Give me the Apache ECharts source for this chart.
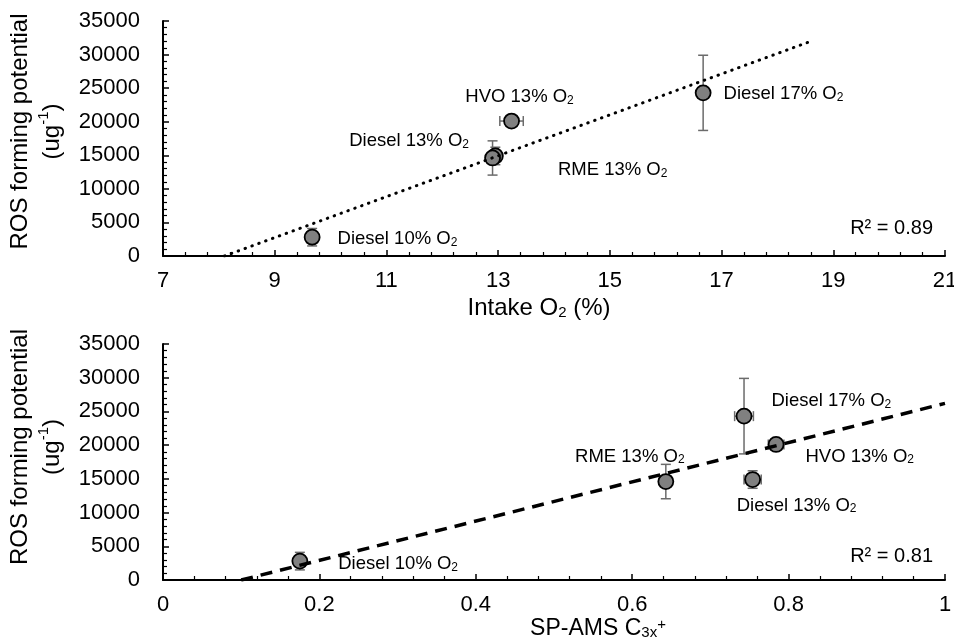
<!DOCTYPE html>
<html>
<head>
<meta charset="utf-8">
<script src="https://cdn.jsdelivr.net/npm/echarts@6/dist/echarts.min.js"></script>
<style>
  html, body { margin: 0; padding: 0; background: #fff; }
  #chart { width: 954px; height: 637px; }
</style>
</head>
<body>
<div id="chart"></div>
<script>
// sample names and measured values
const names = ['Diesel 10% O2', 'Diesel 13% O2', 'RME 13% O2', 'HVO 13% O2', 'Diesel 17% O2'];
const intakeO2 = [9.67, 12.95, 12.9, 13.24, 16.67];
const intakeO2Err = [0, 0, 0, 0.21, 0];
const c3x = [0.175, 0.754, 0.643, 0.784, 0.743];
const c3xErr = [0, 0.011, 0, 0.01, 0.012];
const ros = [2800, 14900, 14600, 20100, 24300];
const rosErr = [1300, 1300, 2550, 700, 5600];

// linear trend lines (end points)
const trendO2X = [8.1, 18.57];
const trendO2Y = [0, 31900];
const trendC3xX = [0.1, 1];
const trendC3xY = [0, 26200];
const r2Labels = ['R² = 0.89', 'R² = 0.81'];

// axis ticks
const yTicks = [0, 35000, 5000];
const o2Ticks = [7, 21, 2];
const c3xTicks = [0, 1, 0.2];

const FONT = "'Liberation Sans', Arial, sans-serif";
const myChart = echarts.init(document.getElementById('chart'));

// label placement for each point (top chart / bottom chart)
const topLabelPos = [
	{ position: 'right', distance: 17, offset: [0, 2] },
	{ position: 'left', distance: 18, offset: [0, -15] },
	{ position: 'right', distance: 57, offset: [0, 12] },
	{ position: 'top', distance: 6, offset: [8, 0] },
	{ position: 'right', distance: 12, offset: [0, 1] }
];
const bottomLabelPos = [
	{ position: 'right', distance: 30, offset: [0, 3] },
	{ position: 'bottom', distance: 8, offset: [44, 0] },
	{ position: 'top', distance: 7, offset: [-36, 0] },
	{ position: 'right', distance: 21, offset: [0, 12] },
	{ position: 'right', distance: 19, offset: [0, -15] }
];

const richSub = {
	t: { fontSize: 18.5, fontFamily: FONT, color: '#000' },
	s: { fontSize: 12, fontFamily: FONT, color: '#000', verticalAlign: 'bottom', padding: [6, 0, 0, 0] }
};

function labelText(name) {
	return '{t|' + name.replace(' O2', ' O}{s|2}');
}

function pointData(xs, ys, placements) {
	return xs.map((x, i) => ({
		value: [x, ys[i]],
		name: names[i],
		label: Object.assign({ show: true, formatter: labelText(names[i]), rich: richSub }, placements[i])
	}));
}

function errData(xs, xe, ys, ye) {
	return xs.map((x, i) => [x, ys[i], xe[i], ye[i]]);
}

function renderErr(params, api) {
	const x = api.value(0), y = api.value(1), xe = api.value(2), ye = api.value(3);
	const cap = 5;
	const style = { stroke: '#6b6b6b', lineWidth: 1.5 };
	const children = [];
	if (ye > 0) {
		const a = api.coord([x, y + ye]);
		const b = api.coord([x, y - ye]);
		children.push({ type: 'line', shape: { x1: a[0], y1: a[1], x2: b[0], y2: b[1] }, style: style });
		children.push({ type: 'line', shape: { x1: a[0] - cap, y1: a[1], x2: a[0] + cap, y2: a[1] }, style: style });
		children.push({ type: 'line', shape: { x1: b[0] - cap, y1: b[1], x2: b[0] + cap, y2: b[1] }, style: style });
	}
	if (xe > 0) {
		const a = api.coord([x - xe, y]);
		const b = api.coord([x + xe, y]);
		children.push({ type: 'line', shape: { x1: a[0], y1: a[1], x2: b[0], y2: b[1] }, style: style });
		children.push({ type: 'line', shape: { x1: a[0], y1: a[1] - cap, x2: a[0], y2: a[1] + cap }, style: style });
		children.push({ type: 'line', shape: { x1: b[0], y1: b[1] - cap, x2: b[0], y2: b[1] + cap }, style: style });
	}
	return { type: 'group', children: children };
}

const axisLine = { show: true, onZero: false, lineStyle: { color: '#000', width: 2 } };
const axisTick = { show: true, inside: true, length: 6, lineStyle: { color: '#000', width: 1.5 } };
const minorTick = { show: true, splitNumber: 5, length: 4, lineStyle: { color: '#000', width: 1.2 } };

function xAxisOf(gridIndex, ticks, name, nameGap, nameSize, pad) {
	return {
		type: 'value', gridIndex: gridIndex,
		min: ticks[0], max: ticks[1], interval: ticks[2],
		axisLine: axisLine, axisTick: axisTick, minorTick: minorTick,
		splitLine: { show: false },
		axisLabel: { fontSize: 22, fontFamily: FONT, color: '#000', margin: 14, formatter: v => String(v) },
		name: name, nameLocation: 'middle', nameGap: nameGap,
		nameTextStyle: {
			fontSize: nameSize, fontFamily: FONT, color: '#000', padding: pad,
			rich: {
				t: { fontSize: nameSize, fontFamily: FONT, color: '#000' },
				s: { fontSize: 15, fontFamily: FONT, color: '#000', verticalAlign: 'bottom', padding: [8, 0, 0, 0] },
				u: { fontSize: 15, fontFamily: FONT, color: '#000', verticalAlign: 'top', padding: [0, 0, 8, 0] }
			}
		}
	};
}

function yAxisOf(gridIndex, pad) {
	return {
		type: 'value', gridIndex: gridIndex,
		min: yTicks[0], max: yTicks[1], interval: yTicks[2],
		axisLine: axisLine, axisTick: axisTick, minorTick: minorTick,
		splitLine: { show: false },
		axisLabel: { fontSize: 22, fontFamily: FONT, color: '#000', margin: 23, formatter: v => String(v) },
		name: '{t|ROS forming potential}\n{t|(ug}{u|-1}{t|)}',
		nameLocation: 'middle', nameGap: 91,
		nameTextStyle: {
			fontSize: 24, fontFamily: FONT, color: '#000', lineHeight: 32,
			padding: [0, 0, 0, pad],
			rich: {
				t: { fontSize: 24, fontFamily: FONT, color: '#000', lineHeight: 32 },
				u: { fontSize: 15, fontFamily: FONT, color: '#000', verticalAlign: 'top', lineHeight: 32, padding: [0, 0, 10, 0] }
			}
		}
	};
}

const option = {
	backgroundColor: '#fff',
	animation: false,
	grid: [
		{ left: 163, right: 9, top: 21, height: 235, outerBoundsMode: 'none', containLabel: false },
		{ left: 163, right: 9, top: 344, height: 236, outerBoundsMode: 'none', containLabel: false }
	],
	xAxis: [
		xAxisOf(0, o2Ticks, '{t|Intake O}{s|2}{t| (%)}', 40, 24, [0, 30, 0, 0]),
		xAxisOf(1, c3xTicks, '{t|SP-AMS C}{s|3x}{u|+}', 33, 23, [0, 0, 0, 88])
	],
	yAxis: [yAxisOf(0, 14), yAxisOf(1, 30)],
	graphic: [
		{ type: 'text', right: 21, top: 218, style: { text: r2Labels[0], fontSize: 20, fontFamily: FONT, fill: '#000' } },
		{ type: 'text', right: 21, top: 546, style: { text: r2Labels[1], fontSize: 20, fontFamily: FONT, fill: '#000' } }
	],
	series: [
		{
			type: 'custom', xAxisIndex: 0, yAxisIndex: 0, z: 1,
			renderItem: renderErr, data: errData(intakeO2, intakeO2Err, ros, rosErr)
		},
		{
			type: 'scatter', xAxisIndex: 0, yAxisIndex: 0, z: 2,
			symbol: 'circle', symbolSize: 15,
			itemStyle: { color: '#808080', borderColor: '#000', borderWidth: 1.8, opacity: 1 },
			data: pointData(intakeO2, ros, topLabelPos)
		},
		{
			type: 'line', xAxisIndex: 0, yAxisIndex: 0, z: 3,
			symbol: 'none', silent: true,
			lineStyle: { color: '#000', width: 3, type: [0.5, 6.8], cap: 'round' },
			data: trendO2X.map((x, i) => [x, trendO2Y[i]])
		},
		{
			type: 'custom', xAxisIndex: 1, yAxisIndex: 1, z: 1,
			renderItem: renderErr, data: errData(c3x, c3xErr, ros, rosErr)
		},
		{
			type: 'scatter', xAxisIndex: 1, yAxisIndex: 1, z: 2,
			symbol: 'circle', symbolSize: 15,
			itemStyle: { color: '#808080', borderColor: '#000', borderWidth: 1.8, opacity: 1 },
			data: pointData(c3x, ros, bottomLabelPos)
		},
		{
			type: 'line', xAxisIndex: 1, yAxisIndex: 1, z: 3,
			symbol: 'none', silent: true,
			lineStyle: { color: '#000', width: 3.5, type: [12, 8] },
			data: trendC3xX.map((x, i) => [x, trendC3xY[i]])
		}
	]
};

myChart.setOption(option);
</script>
</body>
</html>
